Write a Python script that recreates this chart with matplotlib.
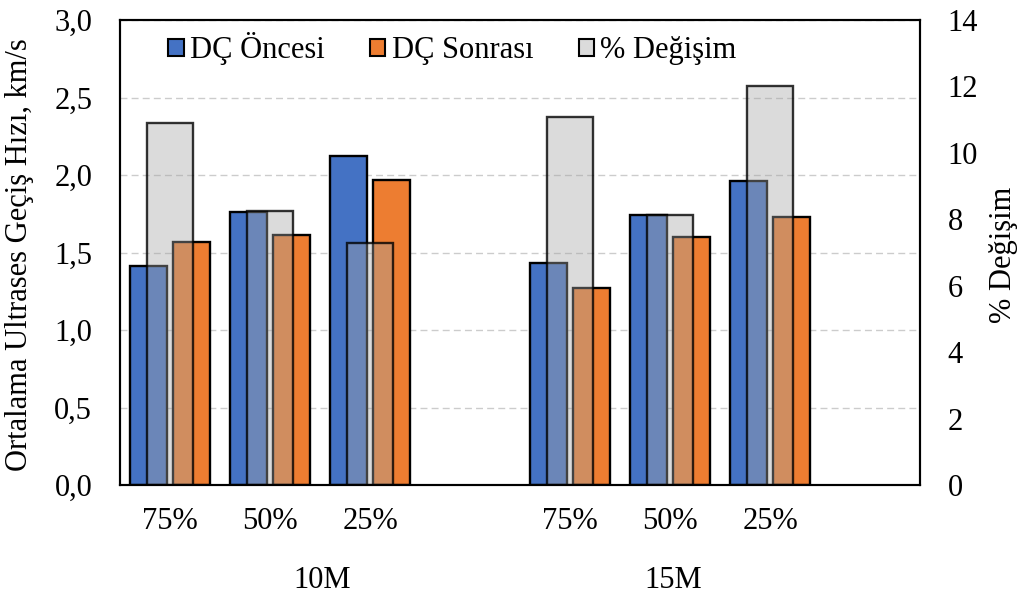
import numpy as np
import matplotlib
matplotlib.use('Agg')
import matplotlib.pyplot as plt
from matplotlib.patches import Patch

plt.rcParams['font.family'] = ['Liberation Serif', 'DejaVu Serif']

# data
groups = ['10M', '15M']
levels = ['75%', '50%', '25%']
dc_oncesi = [1.41, 1.76, 2.12, 1.43, 1.74, 1.96]   # km/s
dc_sonrasi = [1.57, 1.61, 1.97, 1.27, 1.60, 1.73]  # km/s
degisim = [10.89, 8.26, 7.28, 11.07, 8.14, 12.01]  # %

blue = '#4472C4'
orange = '#ED7D31'
gray = (0.65, 0.65, 0.65, 0.4)
fs = 22

# each group takes 4 slots (3 levels + one empty)
x = np.array([g * 4 + i for g in range(len(groups)) for i in range(len(levels))], dtype=float)

fig = plt.figure(figsize=(10.24, 5.99), dpi=100)
ax = fig.add_axes([120 / 1024, 1 - 485 / 599, 800 / 1024, 465 / 599])
ax2 = ax.twinx()

w = 0.37
ax.bar(x - 0.215, dc_oncesi, w, color=blue, edgecolor='black', linewidth=1.7, zorder=2)
ax.bar(x + 0.215, dc_sonrasi, w, color=orange, edgecolor='black', linewidth=1.7, zorder=2)
ax2.bar(x, degisim, 0.46, color=gray, edgecolor=(0, 0, 0, 0.8), linewidth=1.7, zorder=2)

ax.set_xlim(-0.5, 7.5)
ax.set_ylim(0, 3.0)
ax2.set_ylim(0, 14)
ax.set_yticks(np.arange(0, 3.01, 0.5))
ax.set_yticklabels([f'{v:.1f}'.replace('.', ',') for v in np.arange(0, 3.01, 0.5)])
ax2.set_yticks(range(0, 15, 2))

ax.set_axisbelow(True)
ax.yaxis.grid(True, color='#cccccc', linestyle=(0, (5, 3)), linewidth=1.0)

ax.set_xticks(x)
ax.set_xticklabels(levels * len(groups))
ax.tick_params(axis='x', length=0, pad=16, labelsize=fs)
ax.tick_params(axis='y', length=0, pad=20, labelsize=fs)
ax2.tick_params(axis='y', length=0, pad=20, labelsize=fs)

for a in (ax, ax2):
    for s in a.spines.values():
        s.set_linewidth(1.5)

# group labels under the level labels
group_x = [1.52, 5.03]
for gx, name in zip(group_x, groups):
    ax.text(gx, -0.205, name, transform=ax.get_xaxis_transform(),
            ha='center', va='center', fontsize=fs)

fig.text(20 / 1024, 1 - 255 / 599, 'Ortalama Ultrases Geçiş Hızı, km/s',
         rotation=90, ha='center', va='center', fontsize=fs)
fig.text(1003 / 1024, 1 - 255 / 599, '% Değişim',
         rotation=90, ha='center', va='center', fontsize=fs)

handles = [Patch(facecolor=blue, edgecolor='black', linewidth=1.5),
           Patch(facecolor=orange, edgecolor='black', linewidth=1.5),
           Patch(facecolor='#dbdbdb', edgecolor='black', linewidth=1.5)]
ax2.legend(handles, ['DÇ Öncesi', 'DÇ Sonrası', '% Değişim'], loc='upper left',
           bbox_to_anchor=(0.045, 1.0), borderaxespad=0, ncol=3, frameon=False, fontsize=fs,
           handlelength=0.5, handleheight=0.5, handletextpad=0.2, columnspacing=1.5)

fig.savefig('out.png', dpi=100)
